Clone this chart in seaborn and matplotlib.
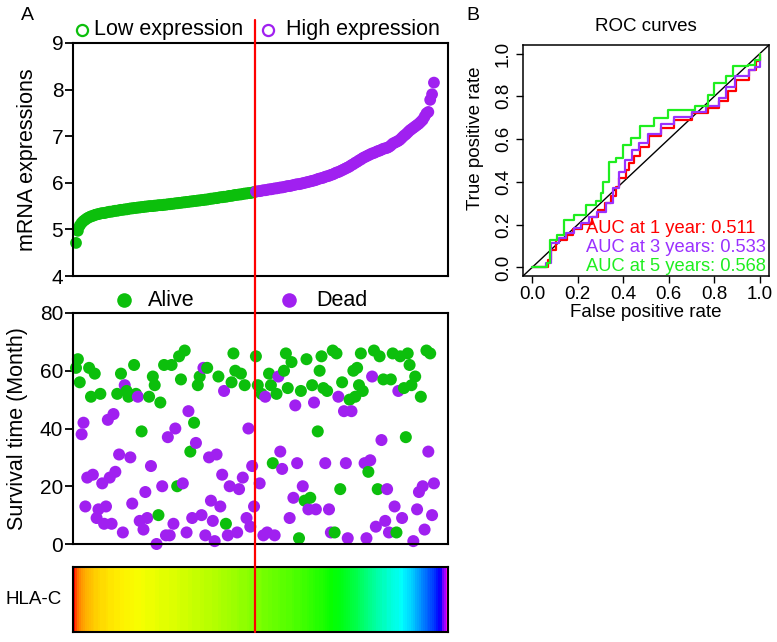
import numpy as np
import pandas as pd
import seaborn as sns
import matplotlib
matplotlib.use("Agg")
import matplotlib.pyplot as plt
import matplotlib.transforms as mtransforms
from matplotlib.lines import Line2D

# ---------------------------------------------------------------
# values (HLA-C risk plot + ROC)
# ---------------------------------------------------------------
# sorted mRNA expression, one value per sample (192 samples)
expression = [
    4.71, 4.97, 5.08, 5.14, 5.18, 5.21, 5.24, 5.26, 5.28, 5.29,
    5.31, 5.32, 5.33, 5.34, 5.35, 5.35, 5.36, 5.37, 5.38, 5.38,
    5.39, 5.40, 5.40, 5.41, 5.42, 5.42, 5.43, 5.43, 5.44, 5.45,
    5.45, 5.46, 5.46, 5.47, 5.47, 5.48, 5.48, 5.49, 5.49, 5.50,
    5.50, 5.50, 5.51, 5.51, 5.52, 5.52, 5.52, 5.53, 5.53, 5.54,
    5.54, 5.55, 5.55, 5.56, 5.56, 5.57, 5.57, 5.58, 5.58, 5.59,
    5.59, 5.60, 5.60, 5.61, 5.61, 5.62, 5.62, 5.63, 5.63, 5.64,
    5.64, 5.65, 5.66, 5.66, 5.67, 5.67, 5.68, 5.69, 5.69, 5.70,
    5.70, 5.71, 5.72, 5.72, 5.73, 5.74, 5.74, 5.75, 5.75, 5.76,
    5.77, 5.77, 5.78, 5.78, 5.79, 5.80,
    5.81, 5.82, 5.82, 5.83,
    5.84, 5.84, 5.85, 5.86, 5.86, 5.87, 5.88, 5.88, 5.89, 5.90,
    5.90, 5.91, 5.92, 5.93, 5.93, 5.94, 5.95, 5.96, 5.97, 5.97,
    5.98, 5.99, 6.00, 6.01, 6.02, 6.03, 6.04, 6.05, 6.06, 6.08,
    6.09, 6.10, 6.11, 6.13, 6.14, 6.15, 6.17, 6.18, 6.20, 6.22,
    6.23, 6.25, 6.27, 6.29, 6.31, 6.33, 6.35, 6.38, 6.40, 6.43,
    6.45, 6.48, 6.50, 6.53, 6.55, 6.57, 6.59, 6.61, 6.63, 6.64,
    6.66, 6.68, 6.69, 6.71, 6.73, 6.74, 6.75, 6.77, 6.80, 6.84,
    6.86, 6.88, 6.90, 6.93, 6.97, 7.01, 7.04, 7.08, 7.12, 7.15,
    7.18, 7.21, 7.24, 7.27, 7.31, 7.35, 7.42, 7.49, 7.52, 7.78,
    7.90, 8.15,
]

# survival time (months) in the same sample order
surv_time = [
    61, 64, 56, 38, 42, 13, 23, 61, 51, 24,
    59, 9, 12, 52, 21, 7, 13, 43, 23, 7,
    45, 25, 52, 31, 59, 4, 55, 53, 51, 30,
    14, 62, 52, 51, 8, 39, 5, 18, 9, 51,
    27, 58, 55, 0, 10, 49, 20, 62, 3, 37,
    3, 62, 7, 40, 20, 65, 57, 21, 67, 4,
    46, 32, 9, 42, 35, 55, 58, 10, 61, 3,
    61, 30, 15, 8, 1, 31, 58, 13, 24, 53,
    7, 3, 20, 56, 66, 60, 4, 19, 59, 23,
    55, 9, 40, 6, 27, 13,
    65, 55, 21, 52, 3, 51, 4, 59, 55, 28,
    3, 52, 58, 32, 26, 60, 66, 54, 9, 63,
    16, 48, 28, 2, 53, 20, 15, 64, 12, 16,
    55, 49, 12, 39, 60, 65, 54, 28, 53, 12,
    4, 67, 4, 66, 51, 19, 56, 46, 28, 2,
    50, 46, 60, 51, 61, 55, 66, 53, 28, 2,
    25, 29, 58, 67, 6, 19, 65, 36, 57, 8,
    19, 4, 57, 66, 13, 4, 53, 65, 9, 54,
    37, 66, 62, 55, 1, 58, 12, 18, 51, 20,
    5, 67, 32, 66, 10, 21,
]

# 0 = alive, 1 = dead
surv_status = [
    0, 0, 0, 1, 1, 1, 1, 0, 0, 1,
    0, 1, 1, 0, 1, 1, 1, 1, 1, 1,
    1, 1, 0, 1, 0, 1, 1, 0, 0, 1,
    1, 0, 0, 1, 1, 0, 1, 1, 1, 0,
    1, 0, 0, 1, 0, 0, 1, 0, 1, 1,
    1, 0, 1, 1, 0, 0, 0, 1, 0, 1,
    1, 0, 1, 0, 1, 0, 0, 1, 1, 1,
    0, 1, 1, 1, 1, 1, 0, 1, 1, 1,
    0, 1, 1, 0, 0, 0, 1, 1, 0, 1,
    0, 1, 1, 1, 1, 1,
    0, 0, 1, 0, 1, 1, 1, 0, 0, 0,
    1, 0, 1, 1, 1, 0, 0, 0, 1, 0,
    1, 1, 1, 0, 0, 1, 0, 0, 1, 0,
    0, 1, 1, 0, 0, 0, 0, 1, 0, 1,
    1, 0, 0, 0, 1, 0, 0, 1, 1, 1,
    0, 1, 0, 0, 0, 0, 0, 0, 1, 1,
    0, 1, 1, 0, 1, 0, 0, 1, 0, 1,
    1, 1, 0, 0, 1, 0, 1, 0, 1, 0,
    0, 0, 0, 0, 1, 0, 1, 1, 0, 1,
    1, 0, 1, 0, 1, 1,
]

# ROC curves (false positive rate, true positive rate)
fpr_1y = [0.0, 0.07, 0.07, 0.084, 0.103, 0.154, 0.18, 0.22, 0.265, 0.29, 0.32, 0.345,
          0.368, 0.382, 0.41, 0.426, 0.448, 0.475, 0.515, 0.566, 0.625, 0.70, 0.77,
          0.82, 0.86, 0.897, 0.95, 0.985, 1.0]
tpr_1y = [0.0, 0.0, 0.034, 0.08, 0.128, 0.15, 0.178, 0.203, 0.237, 0.27, 0.30, 0.334,
          0.378, 0.417, 0.456, 0.487, 0.52, 0.5625, 0.6125, 0.65, 0.69, 0.72, 0.745,
          0.776, 0.823, 0.878, 0.925, 0.964, 1.0]
fpr_3y = [0.0, 0.049, 0.059, 0.081, 0.118, 0.147, 0.184, 0.213, 0.25, 0.287, 0.324,
          0.357, 0.382, 0.407, 0.437, 0.47, 0.507, 0.566, 0.625, 0.70, 0.765, 0.82,
          0.85, 0.89, 0.95, 0.978, 1.0]
tpr_3y = [0.0, 0.0, 0.022, 0.1125, 0.136, 0.1625, 0.183, 0.206, 0.234, 0.261, 0.30,
          0.37, 0.448, 0.503, 0.547, 0.584, 0.625, 0.672, 0.703, 0.728, 0.756, 0.792,
          0.844, 0.897, 0.925, 0.9375, 0.984]
fpr_5y = [0.0, 0.044, 0.066, 0.078, 0.11, 0.14, 0.184, 0.235, 0.28, 0.304, 0.313,
          0.338, 0.368, 0.397, 0.434, 0.475, 0.537, 0.596, 0.713, 0.772, 0.80, 0.853,
          0.882, 0.948, 0.978, 1.0]
tpr_5y = [0.0, 0.0, 0.019, 0.128, 0.15, 0.222, 0.245, 0.292, 0.3125, 0.347, 0.40,
          0.495, 0.51, 0.573, 0.605, 0.66, 0.698, 0.734, 0.753, 0.808, 0.8625, 0.894,
          0.944, 0.948, 0.972, 1.0]
auc_labels = ["AUC at 1 year: 0.511", "AUC at 3 years: 0.533", "AUC at 5 years: 0.568"]

gene_name = "HLA-C"
GREEN = "#0CBF0C"
PURPLE = "#A020F0"
ROC_COLORS = ["#FF0000", "#9B30FF", "#1FEE1F"]

# ---------------------------------------------------------------
sns.set_theme(style="ticks")
plt.rcParams["font.family"] = ["Liberation Sans", "DejaVu Sans"]
plt.rcParams.update({"text.color": "black", "axes.labelcolor": "black",
                     "xtick.color": "black", "ytick.color": "black"})

n = len(expression)
rank = np.arange(1, n + 1)
group = np.where(rank <= n / 2, "Low", "High")
status = np.where(np.array(surv_status) == 1, "Dead", "Alive")
split = n / 2 + 0.5

W, H = 777, 642
fig = plt.figure(figsize=(W / 100, H / 100), dpi=100)


def box(l, t, r, b):
    return [l / W, 1 - b / H, (r - l) / W, (b - t) / H]


ax_expr = fig.add_axes(box(73, 43, 448, 276))
ax_surv = fig.add_axes(box(73, 313, 448, 544))
ax_heat = fig.add_axes(box(73, 567, 448, 632))
ax_roc = fig.add_axes(box(523, 45, 769, 276))

xlim = (-0.6, 199.5)

# --- risk curve ---
sns.scatterplot(x=rank, y=expression, hue=group, palette={"Low": GREEN, "High": PURPLE},
                s=72, linewidth=0, legend=False, ax=ax_expr, clip_on=False)
ax_expr.set_xlim(*xlim)
ax_expr.set_ylim(4, 9)
ax_expr.set_xticks([])
ax_expr.set_yticks(range(4, 10))
ax_expr.set_ylabel("mRNA expressions", fontsize=15.5, va="center")
ax_expr.yaxis.set_label_coords(-0.12, 0.5)

for x0, xt, col, txt in [(0.0227, 0.056, GREEN, "Low expression"),
                         (0.519, 0.568, PURPLE, "High expression")]:
    ax_expr.plot([x0], [1.056], marker="o", ms=8, mfc="none", mec=col, mew=1.6,
                 transform=ax_expr.transAxes, clip_on=False)
    ax_expr.text(xt, 1.056, txt, transform=ax_expr.transAxes, ha="left", va="center",
                 fontsize=15.5)

# --- survival scatter ---
sns.scatterplot(x=rank, y=surv_time, hue=status, palette={"Alive": GREEN, "Dead": PURPLE},
                s=75, linewidth=0, legend=False, ax=ax_surv, clip_on=False)
ax_surv.set_xlim(*xlim)
ax_surv.set_ylim(0, 80)
ax_surv.set_xticks([])
ax_surv.set_yticks(range(0, 81, 20))
ax_surv.set_ylabel("Survival time (Month)", fontsize=15.5, va="center")
ax_surv.yaxis.set_label_coords(-0.148, 0.5)

for x0, xt, col, txt in [(0.137, 0.2, GREEN, "Alive"), (0.575, 0.648, PURPLE, "Dead")]:
    ax_surv.plot([x0], [1.056], marker="o", ms=10.5, mfc=col, mec=col, mew=0,
                 transform=ax_surv.transAxes, clip_on=False)
    ax_surv.text(xt, 1.056, txt, transform=ax_surv.transAxes, ha="left", va="center",
                 fontsize=15.5)

for ax in (ax_expr, ax_surv):
    ax.tick_params(axis="y", labelsize=15, length=5.5, width=1.3, pad=1.5, color="black")
    for sp in ax.spines.values():
        sp.set_visible(True)
        sp.set_linewidth(1.5)
        sp.set_color("black")

# --- expression heat bar ---
sns.heatmap(np.array(expression)[None, :], ax=ax_heat, cmap="hsv", vmin=4.77, vmax=8.77,
            cbar=False, xticklabels=False, yticklabels=False)
ax_heat.tick_params(length=0)
for sp in ax_heat.spines.values():
    sp.set_visible(True)
    sp.set_linewidth(1.5)
    sp.set_color("black")
ax_heat.text(-0.029, 0.5, gene_name, transform=ax_heat.transAxes, ha="right",
             va="center", fontsize=13.5)

# red cut-off line across the three left panels
trans = mtransforms.blended_transform_factory(ax_expr.transData, fig.transFigure)
fig.add_artist(Line2D([split, split], [1 - 632 / H, 1 - 20 / H], transform=trans,
                      color="red", lw=1.6, zorder=10))

# --- ROC curves ---
ax_roc.axline((0, 0), (1, 1), color="black", lw=1)
for fpr, tpr, col in [(fpr_1y, tpr_1y, ROC_COLORS[0]), (fpr_3y, tpr_3y, ROC_COLORS[1]),
                      (fpr_5y, tpr_5y, ROC_COLORS[2])]:
    sns.lineplot(x=fpr, y=tpr, drawstyle="steps-post", color=col, lw=1.6, ax=ax_roc,
                 sort=False, estimator=None)
for ypos, txt, col in zip([0.184, 0.095, 0.006], auc_labels, ROC_COLORS):
    ax_roc.text(0.235, ypos, txt, color=col, fontsize=13.2, ha="left", va="center")

ax_roc.set_xlim(-0.04, 1.04)
ax_roc.set_ylim(-0.04, 1.04)
ticks = np.arange(0, 1.01, 0.2)
ax_roc.set_xticks(ticks)
ax_roc.set_yticks(ticks)
ax_roc.set_xticklabels([f"{t:.1f}" for t in ticks])
ax_roc.set_yticklabels([f"{t:.1f}" for t in ticks], rotation=90, va="center")
ax_roc.tick_params(labelsize=13.5, length=5, width=1, color="black")
ax_roc.tick_params(axis="x", pad=2)
ax_roc.tick_params(axis="y", pad=3)
for sp in ax_roc.spines.values():
    sp.set_visible(True)
    sp.set_linewidth(1.1)
    sp.set_color("black")
ax_roc.set_xlabel("False positive rate", fontsize=13.5, va="center")
ax_roc.xaxis.set_label_coords(0.5, -0.156)
ax_roc.set_ylabel("True positive rate", fontsize=13.5, va="center")
ax_roc.yaxis.set_label_coords(-0.195, 0.595)
ax_roc.set_title("ROC curves", fontsize=13.5, y=1.078, pad=0, va="center")

fig.text(27 / W, 1 - 16 / H, "A", ha="center", va="center", fontsize=14)
fig.text(473 / W, 1 - 16 / H, "B", ha="center", va="center", fontsize=14)

fig.savefig("out.png", dpi=100)
plt.close(fig)
